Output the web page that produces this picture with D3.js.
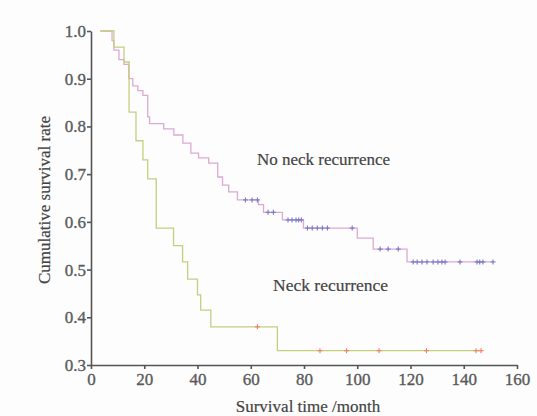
<!DOCTYPE html>
<html>
<head>
<meta charset="utf-8">
<script src="https://cdn.jsdelivr.net/npm/d3@7"></script>
<style>
  body { margin: 0; background: #fdfdfd; }
  svg { display: block; }
  .axis path, .axis line { stroke: #555; stroke-width: 1.6; }
  .axis text { font-family: "Liberation Serif", serif; font-size: 17px; fill: #5a5a5a; stroke: #5a5a5a; stroke-width: 0.35; }
  .label { font-family: "Liberation Serif", serif; fill: #444; stroke: #444; stroke-width: 0.2; }
</style>
</head>
<body>
<div id="chart"></div>
<script>
// Kaplan-Meier curves
// No neck recurrence
const noNeckStart = 3.5;
const noNeckTimes = [7.9, 8.6, 10.5, 12.4, 14.2, 15.7, 17.6, 19.5, 21.3, 22, 27.3, 31.1, 34.5, 37.5, 40.4, 44.2, 47.6, 49.4, 51.7, 55, 62.9, 64.8, 71.9, 79.8, 100, 106, 118.7];
const noNeckSurv  = [0.98, 0.96, 0.94, 0.93, 0.90, 0.885, 0.875, 0.865, 0.82, 0.806, 0.795, 0.782, 0.765, 0.744, 0.734, 0.723, 0.694, 0.677, 0.663, 0.646, 0.636, 0.62, 0.604, 0.587, 0.566, 0.543, 0.516];
const noNeckEnd = 151;
const noNeckCensored = [58, 60.5, 62.5, 66.5, 68.5, 74, 75.5, 77, 78, 79, 81.3, 83.1, 85, 86.9, 88.8, 98.1,
  108.6, 111.6, 115.4, 121, 122.5, 124.3, 126.2, 128.5, 130.3, 131.8, 133, 138.6, 145, 146, 147.2, 151];

// Neck recurrence
const neckStart = 3.5;
const neckTimes = [8.6, 12.4, 14.3, 16.9, 19.5, 21.3, 24.5, 31, 34.4, 36.3, 40, 41.2, 45, 70];
const neckSurv  = [0.966, 0.935, 0.83, 0.77, 0.73, 0.69, 0.587, 0.55, 0.516, 0.48, 0.447, 0.415, 0.38, 0.33];
const neckEnd = 146.5;
const neckCensored = [62.5, 86, 96, 108.2, 126, 144.6, 146.5];

const xTicks = [0, 20, 40, 60, 80, 100, 120, 140, 160];
const yTicks = [0.3, 0.4, 0.5, 0.6, 0.7, 0.8, 0.9, 1.0];

const width = 537, height = 416;
const svg = d3.select("#chart").append("svg")
    .attr("width", width)
    .attr("height", height);

const x = d3.scaleLinear().domain([0, 160]).range([91, 517]);
const y = d3.scaleLinear().domain([0.3, 1.0]).range([365, 31]);

// build step points for a curve
function stepPoints(start, times, surv, end) {
    let pts = [[start, 1.0]];
    times.forEach((t, i) => pts.push([t, surv[i]]));
    pts.push([end, surv[surv.length - 1]]);
    return pts;
}
function survAt(t, times, surv) {
    let i = d3.bisectRight(times, t);
    return i === 0 ? 1.0 : surv[i - 1];
}

const line = d3.line()
    .x(d => x(d[0]))
    .y(d => y(d[1]))
    .curve(d3.curveStepAfter);

const groups = [
    {start: noNeckStart, times: noNeckTimes, surv: noNeckSurv, end: noNeckEnd, cens: noNeckCensored, color: "#dcaad2", mark: "#7878c6"},
    {start: neckStart, times: neckTimes, surv: neckSurv, end: neckEnd, cens: neckCensored, color: "#c6ce80", mark: "#f2805e"}
];

groups.forEach(g => {
    svg.append("path")
        .datum(stepPoints(g.start, g.times, g.surv, g.end))
        .attr("fill", "none")
        .attr("stroke", g.color)
        .attr("stroke-width", 1.3)
        .attr("d", line);

    let marks = svg.append("g").selectAll("g")
        .data(g.cens)
        .enter()
        .append("g")
        .attr("transform", t => `translate(${x(t)},${y(survAt(t, g.times, g.surv))})`);
    marks.append("line").attr("x1", 0).attr("x2", 0).attr("y1", -2.5).attr("y2", 2.5)
        .attr("stroke", g.mark).attr("stroke-width", 1.1);
    marks.append("line").attr("x1", -2.5).attr("x2", 2.5).attr("y1", 0).attr("y2", 0)
        .attr("stroke", g.mark).attr("stroke-width", 1.1);
});

// axes
svg.append("g")
    .attr("class", "axis")
    .attr("transform", "translate(0,365)")
    .call(d3.axisBottom(x).tickValues(xTicks).tickSize(4).tickSizeOuter(0).tickPadding(4));

svg.append("g")
    .attr("class", "axis")
    .attr("transform", "translate(91,0)")
    .call(d3.axisLeft(y).tickValues(yTicks).tickFormat(d3.format(".1f")).tickSize(4).tickSizeOuter(0).tickPadding(1));

// labels
svg.append("text")
    .attr("class", "label")
    .attr("x", 308).attr("y", 412)
    .attr("text-anchor", "middle")
    .style("font-size", "17px")
    .text("Survival time /month");

svg.append("text")
    .attr("class", "label")
    .attr("transform", "translate(50,200) rotate(-90)")
    .attr("text-anchor", "middle")
    .style("font-size", "17px")
    .text("Cumulative survival rate");

svg.append("text")
    .attr("class", "label")
    .attr("x", 257).attr("y", 165)
    .style("font-size", "17px")
    .text("No neck recurrence");

svg.append("text")
    .attr("class", "label")
    .attr("x", 273).attr("y", 291)
    .style("font-size", "17.5px")
    .text("Neck recurrence");
</script>
</body>
</html>
